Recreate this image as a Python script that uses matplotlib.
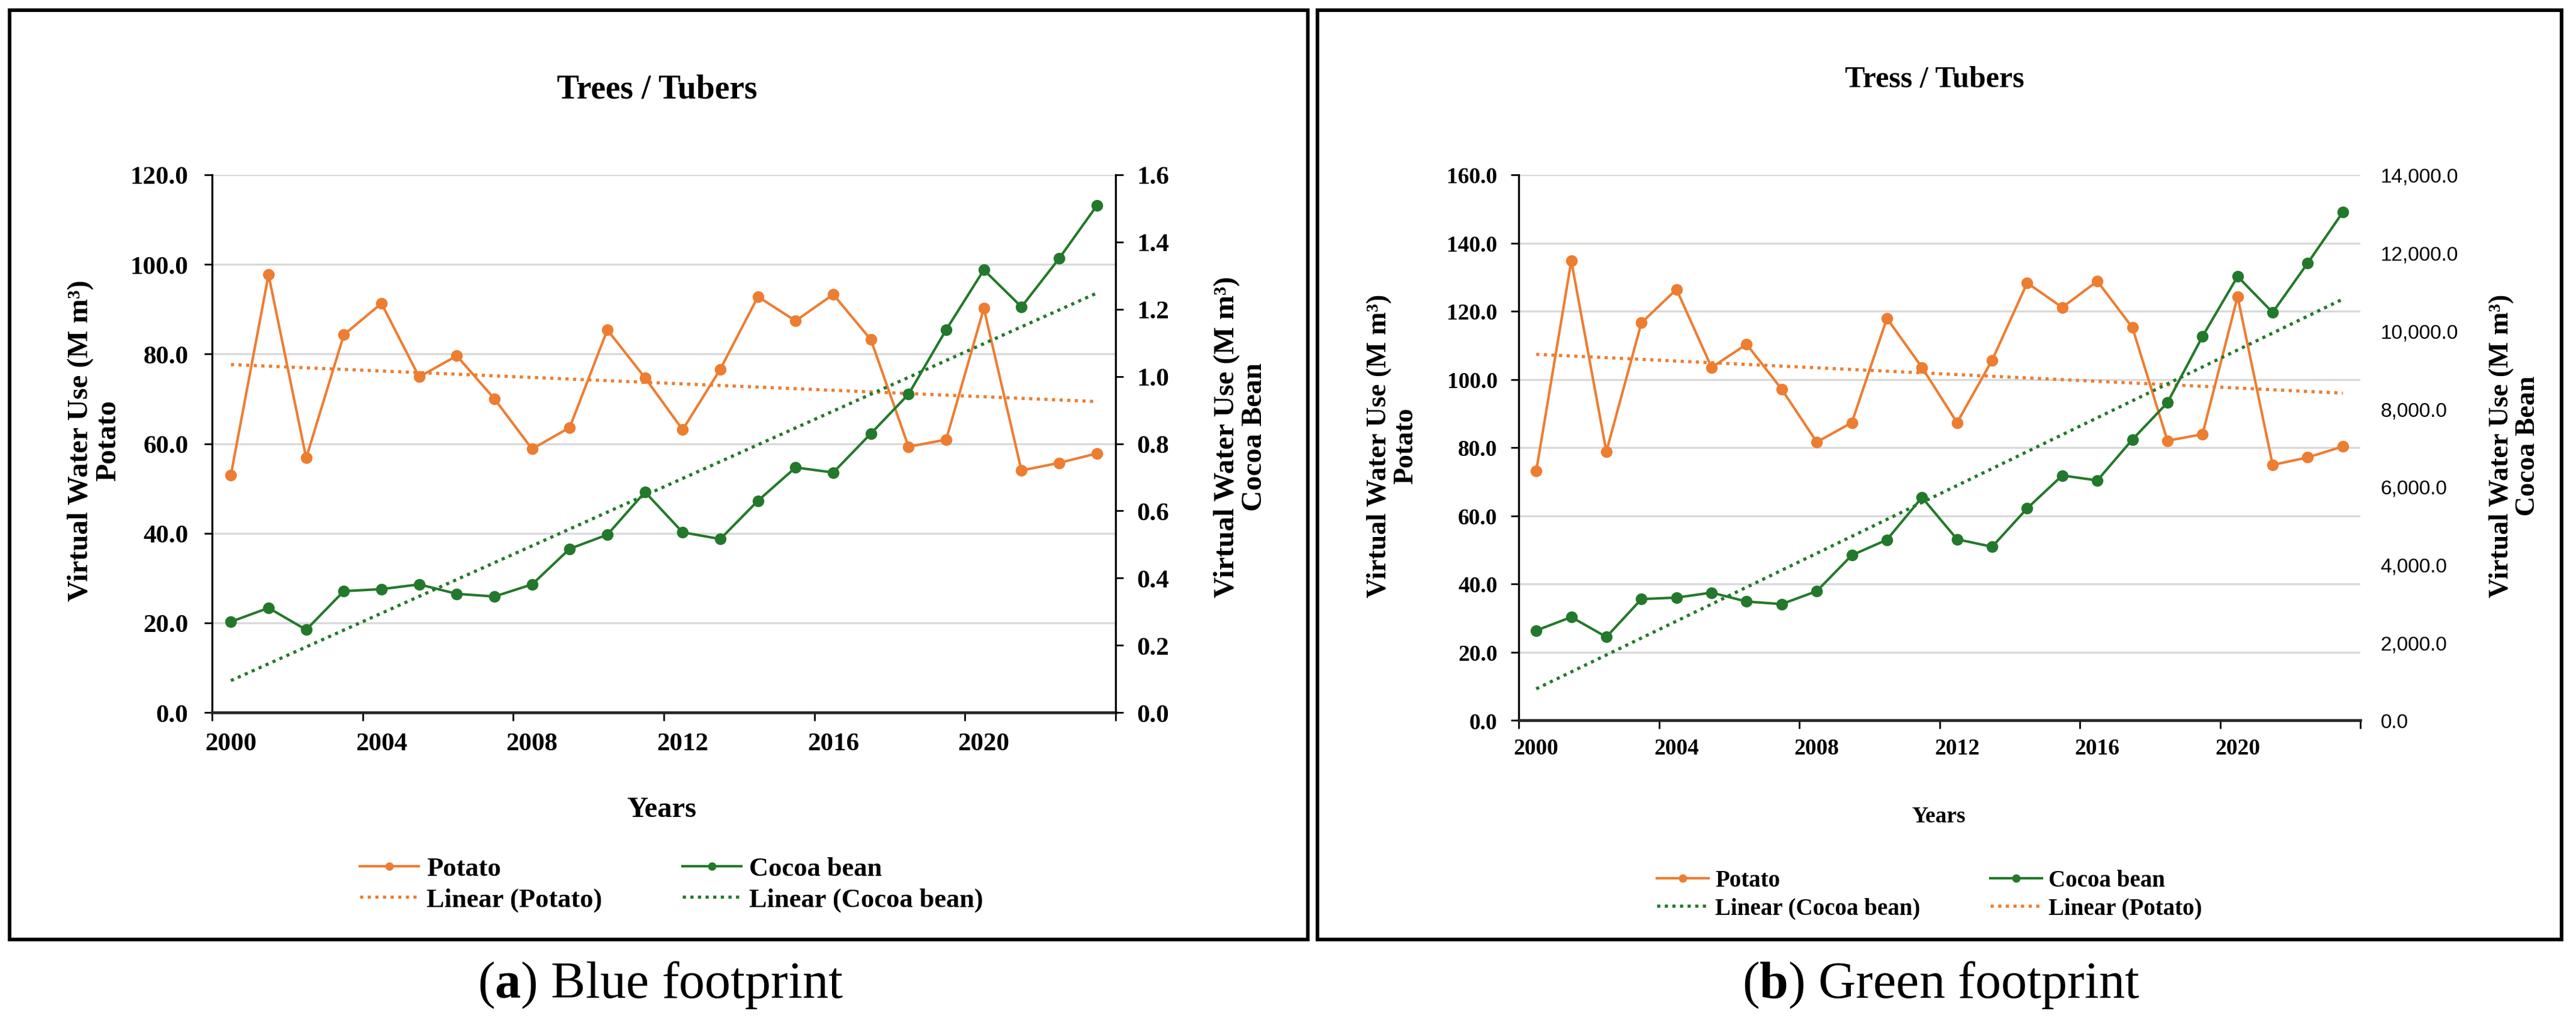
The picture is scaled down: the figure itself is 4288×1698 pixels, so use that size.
import numpy as np
import matplotlib
matplotlib.use("Agg")
import matplotlib.pyplot as plt
from matplotlib.patches import Rectangle
from matplotlib.ticker import FuncFormatter

plt.rcParams['font.family'] = ['Liberation Serif', 'DejaVu Serif']
plt.rcParams['mathtext.fontset'] = 'custom'
plt.rcParams['mathtext.rm'] = 'Liberation Serif'
plt.rcParams['mathtext.bf'] = 'Liberation Serif:bold'

# data
years = list(range(2000, 2024))
tick_years = [2000, 2004, 2008, 2012, 2016, 2020]

potato_blue = [53.0, 97.7, 56.8, 84.3, 91.3, 74.9, 79.6, 70.0, 58.8, 63.6, 85.4, 74.7,
               63.1, 76.6, 92.8, 87.4, 93.3, 83.2, 59.3, 60.9, 90.2, 54.0, 55.7, 57.8]
cocoa_blue = [0.270, 0.311, 0.246, 0.361, 0.367, 0.381, 0.353, 0.345, 0.381, 0.487, 0.529, 0.656,
              0.536, 0.516, 0.630, 0.729, 0.714, 0.830, 0.947, 1.139, 1.317, 1.207, 1.351, 1.508]

potato_green = [73.1, 134.8, 78.8, 116.6, 126.4, 103.5, 110.3, 97.1, 81.6, 87.3, 117.9, 103.5,
                87.3, 105.6, 128.3, 121.1, 128.8, 115.2, 82.0, 83.9, 124.3, 74.9, 77.1, 80.3]
cocoa_green = [2303, 2649, 2137, 3110, 3148, 3276, 3046, 2982, 3314, 4236, 4633, 5720,
               4645, 4453, 5439, 6283, 6155, 7205, 8152, 9854, 11390, 10468, 11735, 13040]

ORANGE = '#ED7D31'
GREEN = '#23792B'
GRID = '#D9D9D9'
DOT = (0, (1, 1.4))

W, H = 4288, 1699
fig = plt.figure(figsize=(W / 100, H / 100), dpi=100)


def px_rect(l, t, r, b):
    return [l / W, 1 - b / H, (r - l) / W, (b - t) / H]


def draw_panel(rect, potato, cocoa, cfg):
    ax = fig.add_axes(rect)
    ax2 = ax.twinx()
    x = np.arange(len(years)) + 0.5

    # trend lines (least squares, like Excel "Linear")
    kp = np.polyfit(x, potato, 1)
    kc = np.polyfit(x, cocoa, 1)
    ax.plot(x, potato, color=ORANGE, lw=3.0, marker='o', ms=14, mew=0, zorder=3)
    ax.plot(x, np.polyval(kp, x), color=ORANGE, lw=3.8, ls=DOT, zorder=3)
    ax2.plot(x, cocoa, color=GREEN, lw=3.0, marker='o', ms=14, mew=0, zorder=3)
    ax2.plot(x, np.polyval(kc, x), color=GREEN, lw=3.8, ls=DOT, zorder=3)

    ax.set_xlim(0, len(years))
    ax.set_ylim(0, cfg['ymax'])
    ax.set_yticks(np.arange(0, cfg['ymax'] + 1e-9, 20))
    ax.yaxis.set_major_formatter(FuncFormatter(lambda v, p: f"{v:.1f}"))
    ax.grid(axis='y', color=GRID, lw=2.4)
    ax.set_axisbelow(True)

    ax.set_xticks(np.arange(0, len(years) + 1, 4))
    ax.set_xticklabels([])
    ax.set_xticks([years.index(y) + 0.5 for y in tick_years], minor=True)
    ax.set_xticklabels([str(y) for y in tick_years], minor=True)
    ax.tick_params(axis='x', which='major', length=10, width=2, direction='out')
    ax.tick_params(axis='x', which='minor', length=0, pad=cfg['xpad'],
                   labelsize=cfg['tick_fs'])
    for lab in ax.get_xticklabels(minor=True):
        lab.set_fontweight('bold')
    ax.tick_params(axis='y', length=9.5, width=2, pad=cfg['ypad'], labelsize=cfg['tick_fs'])
    for lab in ax.get_yticklabels():
        lab.set_fontweight('bold')

    for s in ['top', 'right']:
        ax.spines[s].set_visible(False)
        ax2.spines[s].set_visible(False)
    ax2.spines['left'].set_visible(False)
    ax2.spines['bottom'].set_visible(False)
    ax.spines['left'].set_linewidth(2.4)
    ax.spines['bottom'].set_linewidth(3.4)
    ax.spines['bottom'].set_color('#262626')

    ax2.set_ylim(0, cfg['y2max'])
    ax2.set_yticks(cfg['y2ticks'])
    ax2.yaxis.set_major_formatter(FuncFormatter(cfg['y2fmt']))
    if cfg['right_spine']:
        ax2.spines['right'].set_visible(True)
        ax2.spines['right'].set_linewidth(2.4)
        ax2.tick_params(axis='y', length=9.5, width=2, pad=cfg['y2pad'], labelsize=cfg['tick_fs'])
        for lab in ax2.get_yticklabels():
            lab.set_fontweight('bold')
    else:
        ax2.tick_params(axis='y', length=0, pad=cfg['y2pad'], labelsize=cfg['y2_fs'])
        for lab in ax2.get_yticklabels():
            lab.set_fontfamily('Liberation Sans')

    ax.set_ylabel("Virtual Water Use (M m³)\nPotato", fontsize=cfg['lab_fs'],
                  fontweight='bold', linespacing=1.05, va='center')
    ax.yaxis.set_label_coords(cfg['ylab_x'], cfg['ylab_y'])
    ax2.set_ylabel("Virtual Water Use (M m³)\nCocoa Bean", fontsize=cfg['lab_fs'],
                   fontweight='bold', rotation=90, linespacing=1.05, va='center')
    ax2.yaxis.set_label_coords(cfg['y2lab_x'], cfg['y2lab_y'])

    fig.text(cfg['title_xy'][0] / W, 1 - cfg['title_xy'][1] / H, cfg['title'],
             fontsize=cfg['title_fs'], fontweight='bold', ha='center', va='center')
    fig.text(cfg['years_xy'][0] / W, 1 - cfg['years_xy'][1] / H, "Years",
             fontsize=cfg['years_fs'], fontweight='bold', ha='center', va='center')

    h_pot = plt.Line2D([], [], color=ORANGE, lw=3.0, marker='o', ms=10, mew=0)
    h_coc = plt.Line2D([], [], color=GREEN, lw=3.0, marker='o', ms=10, mew=0)
    h_lp = plt.Line2D([], [], color=ORANGE, lw=3.8, ls=DOT)
    h_lc = plt.Line2D([], [], color=GREEN, lw=3.8, ls=DOT)
    if cfg['legend_order'] == 'a':
        handles = [h_pot, h_lp, h_coc, h_lc]
        labels = ["Potato", "Linear (Potato)", "Cocoa bean", "Linear (Cocoa bean)"]
    else:
        handles = [h_pot, h_lc, h_coc, h_lp]
        labels = ["Potato", "Linear (Cocoa bean)", "Cocoa bean", "Linear (Potato)"]
    fig.legend(handles, labels, ncol=2, loc='center',
               bbox_to_anchor=(cfg['leg_xy'][0] / W, 1 - cfg['leg_xy'][1] / H),
               frameon=False, handlelength=2.2, handletextpad=0.3, columnspacing=3.0,
               labelspacing=0.25, prop={'weight': 'bold', 'size': cfg['leg_fs']})

    fig.text(cfg['cap_xy'][0] / W, 1 - cfg['cap_xy'][1] / H, cfg['caption'],
             fontsize=62, ha='center', va='center')
    return ax, ax2


cfg_a = dict(ymax=120, y2max=1.6, y2ticks=np.arange(0, 1.61, 0.2),
             y2fmt=lambda v, p: f"{v:.1f}", right_spine=True,
             tick_fs=31, y2_fs=31, xpad=24, ypad=19, y2pad=16, lab_fs=35,
             ylab_x=(157 - 353) / 1504, ylab_y=0.507,
             y2lab_x=(2065 - 353) / 1504, y2lab_y=0.513,
             title="Trees / Tubers", title_xy=(1094, 149), title_fs=40,
             years_xy=(1101, 1348), years_fs=35,
             legend_order='a', leg_xy=(1118, 1473), leg_fs=32,
             caption=r"($\mathbf{a}$) Blue footprint", cap_xy=(1100, 1640))
cfg_b = dict(ymax=160, y2max=14000, y2ticks=np.arange(0, 14001, 2000),
             y2fmt=lambda v, p: f"{v:,.1f}", right_spine=False,
             tick_fs=27, y2_fs=24, xpad=21, ypad=16, y2pad=24, lab_fs=33,
             ylab_x=(2318 - 2528) / 1401, ylab_y=0.504,
             y2lab_x=(4186 - 2528) / 1401, y2lab_y=0.504,
             title="Tress / Tubers", title_xy=(3220, 133), title_fs=36,
             years_xy=(3227, 1360), years_fs=27,
             legend_order='b', leg_xy=(3212, 1490), leg_fs=28,
             caption=r"($\mathbf{b}$) Green footprint", cap_xy=(3231, 1640))

draw_panel(px_rect(353, 292, 1857, 1187), potato_blue, cocoa_blue, cfg_a)
draw_panel(px_rect(2528, 292, 3929, 1200), potato_green, cocoa_green, cfg_b)

# black frames around each panel
for l, r in [(16, 2177), (2193, 4264)]:
    fig.add_artist(Rectangle((l / W, 1 - 1565 / H), (r - l) / W, (1565 - 18) / H,
                             transform=fig.transFigure, fill=False, ec='black', lw=4.3))

fig.savefig("out.png", dpi=100, facecolor='white')
